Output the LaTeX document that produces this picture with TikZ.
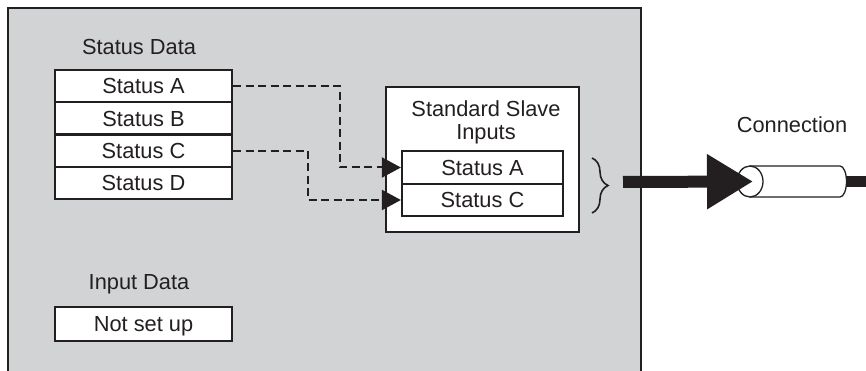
\documentclass[tikz,border=0pt]{standalone}
\usepackage{fontspec}
\setmainfont{Liberation Sans}
\usetikzlibrary{arrows.meta,decorations.pathreplacing}
\definecolor{panel}{RGB}{209,211,212}
\definecolor{ink}{RGB}{35,31,32}
\begin{document}
\begin{tikzpicture}[x=1pt,y=-1pt,
  every node/.style={font=\fontsize{21.8}{23}\selectfont, text=ink},
  rowbox/.style={draw=ink, fill=white, line width=2.2pt, minimum width=177pt,
    minimum height=32.3pt, inner sep=0pt, text height=15.5pt, text depth=0pt},
  inbox/.style={draw=ink, fill=white, line width=2.2pt, minimum width=161pt,
    minimum height=32.5pt, inner sep=0pt, text height=15.5pt, text depth=0pt},
  lbl/.style={anchor=base, inner sep=0pt},
  dashlink/.style={draw=ink, line width=2pt, dash pattern=on 8pt off 4.5pt,
    -{Triangle[length=19pt,width=20pt]}},
  heavy/.style={draw=ink, line width=12pt},
]
\useasboundingbox (0,0) rectangle (866,371);
% panel
\fill[panel] (8,8) rectangle (641,375);
\draw[ink, line width=2.4pt] (8,375) -- (8,8) -- (641,8) -- (641,375);

% status data
\node[lbl] (sdl) at (139,55) {Status Data};
\node[rowbox] (sa) at (143.5,86.1) {Status A};
\node[rowbox] (sb) at (143.5,118.4) {Status B};
\node[rowbox] (sc) at (143.5,150.6) {Status C};
\node[rowbox] (sd) at (143.5,182.9) {Status D};

% input data
\node[lbl] (idl) at (139,289) {Input Data};
\node[rowbox, minimum height=34pt] (nsu) at (143.5,324) {Not set up};

% standard slave inputs
\node[draw=ink, fill=white, line width=2.2pt, minimum width=193pt, minimum height=145pt, inner sep=0pt] (ssi) at (482.5,159.5) {};
\node[lbl] (ssl1) at (486,117) {Standard Slave};
\node[lbl] (ssl2) at (486,140) {Inputs};
\node[inbox] (ia) at (482.5,167.5) {Status A};
\node[inbox] (ic) at (482.5,200) {Status C};

% dashed links
\coordinate (ja) at (340,0);
\coordinate (jc) at (308,0);
\draw[dashlink] (sa.east) -| (ja |- ia.west) -- (ia.west);
\draw[dashlink] (sc.east) -| (jc |- ic.west) -- (ic.west);

% brace
\coordinate (brtop) at (592,158);
\coordinate (brbot) at (592,213);
\draw[ink, line width=1.6pt, decorate, decoration={brace, amplitude=16pt, aspect=0.5}] (brtop) -- (brbot);

% connection cylinder
\node[lbl] (connl) at (792,133) {Connection};
\coordinate (cyl) at (750,181.5);
\draw[ink, line width=1.3pt, fill=white] (750,166) -- (840,166)
   arc[start angle=-90, end angle=90, x radius=6.5, y radius=15.5] -- (750,197) -- cycle;
\draw[ink, line width=1.3pt, fill=white] (cyl) ellipse [x radius=13, y radius=15.5];
\coordinate (cylend) at (847,182);
\coordinate (offpage) at (872,182);
\draw[heavy, line width=11pt] (cylend) -- (offpage);

% heavy arrow
\coordinate (astart) at (623,182);
\draw[heavy, -{Triangle[length=46pt,width=52pt]}] (astart) -- (cyl -| 753,0);
\end{tikzpicture}
\end{document}
